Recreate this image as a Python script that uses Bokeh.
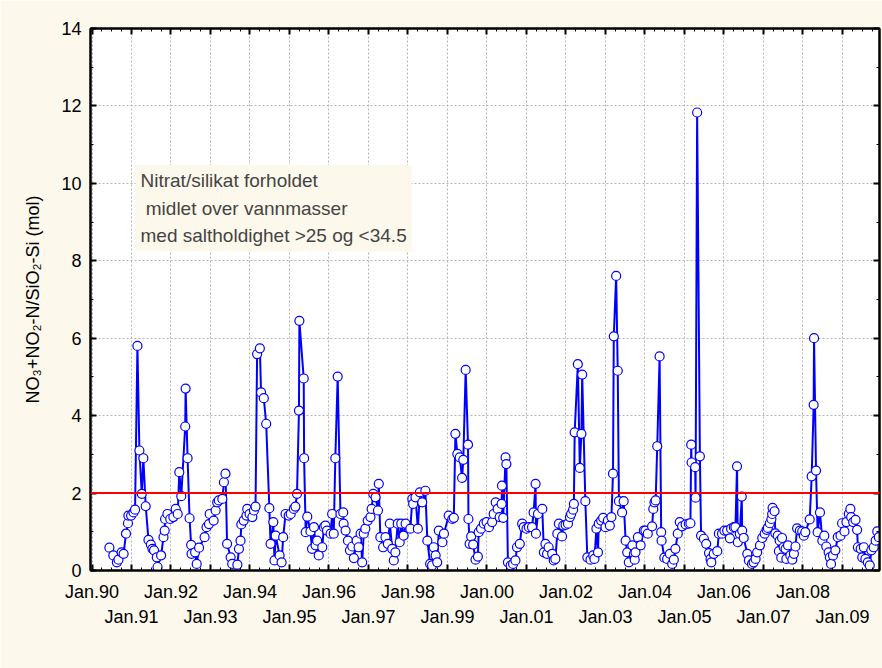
from bokeh.plotting import figure
from bokeh.models import Range1d, FixedTicker, LinearAxis, Span, Label, ColumnDataSource
from bokeh.embed import file_html
from bokeh.resources import INLINE

# decimal-year sampling dates and ratio values
dates = [
    1990.44, 1990.54, 1990.63, 1990.67, 1990.75, 1990.80, 1990.86, 1990.91, 1990.92, 1990.99,
    1991.05, 1991.09, 1991.15, 1991.20, 1991.26, 1991.30, 1991.36, 1991.43, 1991.49, 1991.53,
    1991.57, 1991.64, 1991.66, 1991.75, 1991.81, 1991.84, 1991.85, 1991.91, 1991.98,
    1992.06, 1992.12, 1992.17, 1992.21, 1992.26, 1992.36, 1992.37, 1992.42, 1992.47, 1992.51,
    1992.52, 1992.61, 1992.65, 1992.71, 1992.85, 1992.90, 1992.96, 1992.98,
    1993.08, 1993.13, 1993.17, 1993.21, 1993.30, 1993.34, 1993.38, 1993.42, 1993.51, 1993.55,
    1993.68, 1993.72, 1993.76, 1993.78, 1993.84, 1993.91, 1993.93, 1993.99,
    1994.06, 1994.10, 1994.14, 1994.18, 1994.25, 1994.28, 1994.35, 1994.41, 1994.49, 1994.52,
    1994.59, 1994.62, 1994.65, 1994.75, 1994.80, 1994.84, 1994.90, 1994.98,
    1995.03, 1995.11, 1995.15, 1995.19, 1995.24, 1995.25, 1995.36, 1995.37, 1995.41, 1995.45,
    1995.53, 1995.57, 1995.62, 1995.66, 1995.70, 1995.74, 1995.83, 1995.87, 1995.91, 1995.95,
    1996.04, 1996.08, 1996.12, 1996.16, 1996.22, 1996.29, 1996.36, 1996.37, 1996.42, 1996.48,
    1996.53, 1996.59, 1996.63, 1996.70, 1996.75, 1996.80, 1996.84, 1996.88, 1996.92, 1996.98,
    1997.05, 1997.08, 1997.12, 1997.18, 1997.24, 1997.26, 1997.30, 1997.37, 1997.43, 1997.49,
    1997.54, 1997.60, 1997.64, 1997.68, 1997.74, 1997.79, 1997.83, 1997.89, 1997.94,
    1998.06, 1998.11, 1998.13, 1998.19, 1998.25, 1998.30, 1998.36, 1998.44, 1998.49, 1998.56,
    1998.61, 1998.65, 1998.70, 1998.74, 1998.78, 1998.87, 1998.91,
    1999.03, 1999.12, 1999.16, 1999.20, 1999.25, 1999.31, 1999.37, 1999.40, 1999.46, 1999.52,
    1999.53, 1999.56, 1999.60, 1999.65, 1999.71, 1999.77, 1999.79, 1999.85, 1999.92, 1999.99,
    2000.05, 2000.13, 2000.17, 2000.22, 2000.27, 2000.32, 2000.37, 2000.38, 2000.41, 2000.47,
    2000.49, 2000.53, 2000.60, 2000.66, 2000.72, 2000.76, 2000.83, 2000.89, 2000.93,
    2001.00, 2001.06, 2001.14, 2001.18, 2001.23, 2001.24, 2001.29, 2001.40, 2001.44, 2001.48,
    2001.52, 2001.56, 2001.65, 2001.69, 2001.73, 2001.78, 2001.82, 2001.90, 2001.93, 2001.99,
    2002.05, 2002.10, 2002.13, 2002.18, 2002.20, 2002.22, 2002.30, 2002.35, 2002.39, 2002.41,
    2002.49, 2002.54, 2002.62, 2002.69, 2002.72, 2002.77, 2002.81, 2002.83, 2002.89, 2002.94,
    2003.00, 2003.06, 2003.11, 2003.15, 2003.19, 2003.21, 2003.27, 2003.31, 2003.34, 2003.42,
    2003.46, 2003.51, 2003.55, 2003.59, 2003.68, 2003.72, 2003.74, 2003.76, 2003.82, 2003.89,
    2003.97, 2004.01, 2004.07, 2004.18, 2004.21, 2004.24, 2004.27, 2004.31, 2004.37, 2004.41,
    2004.42, 2004.49, 2004.56, 2004.63, 2004.69, 2004.73, 2004.77, 2004.83, 2004.88, 2004.94,
    2005.03, 2005.11, 2005.15, 2005.17, 2005.18, 2005.27, 2005.28, 2005.32, 2005.39, 2005.42,
    2005.49, 2005.55, 2005.62, 2005.66, 2005.68, 2005.74, 2005.83, 2005.87, 2005.95,
    2006.01, 2006.08, 2006.15, 2006.18, 2006.25, 2006.29, 2006.33, 2006.35, 2006.40, 2006.45,
    2006.46, 2006.50, 2006.59, 2006.63, 2006.71, 2006.75, 2006.80, 2006.84, 2006.91, 2006.97,
    2007.03, 2007.08, 2007.11, 2007.16, 2007.20, 2007.22, 2007.23, 2007.28, 2007.30, 2007.36,
    2007.39, 2007.41, 2007.45, 2007.47, 2007.51, 2007.56, 2007.58, 2007.62, 2007.68, 2007.73,
    2007.77, 2007.81, 2007.85, 2007.92, 2007.98,
    2008.02, 2008.06, 2008.17, 2008.22, 2008.27, 2008.28, 2008.33, 2008.37, 2008.43, 2008.49,
    2008.54, 2008.59, 2008.65, 2008.68, 2008.71, 2008.76, 2008.82, 2008.88, 2008.95, 2008.99,
    2009.05, 2009.10, 2009.16, 2009.20, 2009.22, 2009.27, 2009.33, 2009.37, 2009.39, 2009.46,
    2009.50, 2009.54, 2009.58, 2009.64, 2009.69, 2009.73, 2009.79, 2009.84, 2009.88, 2009.92,
]
values = [
    0.59, 0.39, 0.21, 0.28, 0.47, 0.43, 0.95, 1.22, 1.42, 1.42,
    1.50, 1.57, 5.80, 3.10, 1.98, 2.90, 1.66, 0.79, 0.67, 0.56,
    0.52, 0.34, 0.09, 0.39, 0.86, 1.03, 1.33, 1.46, 1.33,
    1.38, 1.59, 1.46, 2.54, 1.92, 3.72, 4.70, 2.90, 1.35, 0.66,
    0.43, 0.47, 0.17, 0.59, 0.86, 1.12, 1.20, 1.46,
    1.29, 1.55, 1.76, 1.81, 1.85, 2.28, 2.50, 0.69, 0.34, 0.17,
    0.15, 0.56, 0.77, 1.19, 1.29, 1.42, 1.59, 1.46,
    1.38, 1.55, 1.65, 5.59, 5.74, 4.60, 4.45, 3.79, 1.61, 0.69,
    1.25, 0.26, 0.90, 0.39, 0.21, 0.86, 1.46, 1.42,
    1.46, 1.59, 1.65, 1.98, 4.13, 6.45, 4.96, 2.90, 0.99, 1.39,
    1.01, 0.56, 1.12, 0.65, 0.77, 0.39, 0.60, 1.12, 1.16, 1.03,
    0.95, 1.46, 0.95, 2.90, 5.01, 1.46, 1.50, 1.21, 1.03, 0.77,
    0.52, 0.62, 0.32, 0.77, 0.60, 0.95, 0.21, 0.95, 1.08, 1.29,
    1.38, 1.59, 1.98, 1.89, 1.55, 2.24, 0.86, 0.60, 0.86, 0.69,
    1.21, 0.56, 0.26, 0.47, 1.21, 0.73, 1.21, 0.90, 1.21,
    1.08, 1.85, 1.72, 1.89, 1.08, 2.02, 1.76, 2.06, 0.77, 0.17,
    0.13, 0.60, 0.39, 0.21, 1.03, 0.73, 0.95,
    1.42, 1.33, 1.36, 3.53, 3.01, 2.92, 2.39, 2.86, 5.18, 3.25,
    1.33, 0.69, 0.88, 0.67, 0.28, 0.36, 0.99, 1.08, 1.21, 1.25,
    1.12, 1.25, 1.46, 1.76, 1.59, 1.38, 1.72, 2.19, 1.36, 2.92,
    2.75, 0.21, 0.13, 0.17, 0.26, 0.60, 0.69, 1.21, 1.12,
    1.08, 1.12, 1.12, 1.50, 2.24, 0.95, 1.46, 1.59, 0.47, 0.69,
    0.43, 0.60, 0.43, 0.26, 0.30, 0.95, 1.21, 0.88, 1.16, 1.18,
    1.21, 1.38, 1.46, 1.57, 1.72, 3.57, 5.33, 2.65, 3.53, 5.06,
    1.79, 0.34, 0.28, 0.39, 0.30, 1.08, 0.47, 1.21, 1.29, 1.36,
    1.12, 1.29, 1.16, 1.38, 2.50, 6.05, 7.61, 5.16, 1.79, 1.50,
    1.79, 0.77, 0.47, 0.21, 0.65, 0.43, 0.28, 0.47, 0.86, 0.65,
    1.03, 1.03, 0.95, 1.14, 1.59, 1.76, 1.81, 3.21, 5.53, 0.99,
    0.77, 0.33, 0.30, 0.43, 0.17, 0.28, 0.56, 0.95, 1.25, 1.14,
    1.19, 1.21, 1.22, 3.25, 2.79, 2.67, 1.88, 11.83, 2.95, 0.90,
    0.82, 0.69, 0.45, 0.30, 0.21, 0.43, 0.50, 0.95, 0.95,
    1.03, 1.03, 0.83, 1.08, 1.12, 1.12, 2.69, 0.73, 0.95, 1.91,
    1.03, 0.84, 0.43, 0.26, 0.17, 0.21, 0.30, 0.47, 0.65, 0.84,
    0.95, 1.05, 1.10, 1.22, 1.33, 1.46, 1.62, 1.53, 0.96, 0.90,
    0.50, 0.77, 0.33, 0.84, 0.60, 0.56, 0.30, 0.65, 0.39, 0.28,
    0.43, 0.62, 1.09, 1.03, 1.01,
    0.90, 0.99, 1.32, 2.43, 4.28, 6.00, 2.58, 0.99, 1.50, 0.77,
    0.90, 0.62, 0.47, 0.34, 0.17, 0.39, 0.52, 0.86, 0.90, 1.22,
    1.01, 1.25, 1.46, 1.59, 1.38, 1.25, 1.31, 1.05, 0.60, 0.56,
    0.34, 0.60, 0.30, 0.21, 0.13, 0.52, 0.60, 0.77, 1.01, 0.86,
]

threshold = 2.0
years = list(range(1990, 2010))
year_labels = ["Jan.%02d" % (y % 100) for y in years]
quarters = [y + q / 4 for y in range(1989, 2010) for q in range(1, 4)]
y_major = [0, 2, 4, 6, 8, 10, 12, 14]
y_minor = [1, 3, 5, 7, 9, 11, 13]

note_text = "Nitrat/silikat forholdet\n\u00a0midlet over vannmasser\nmed saltholdighet >25 og <34.5"
y_title = "NO\u2083+NO\u2082-N/SiO\u2082-Si (mol)"

FONT = "Liberation Sans"
BG = "#FDF8EC"

p = figure(width=882, height=668, output_backend="svg", toolbar_location=None,
           x_range=Range1d(1989.962, 2009.937), y_range=Range1d(0, 14),
           min_border_left=90, min_border_top=28, min_border_right=3, min_border_bottom=98)
p.background_fill_color = "white"
p.border_fill_color = BG
p.outline_line_color = "black"
p.outline_line_width = 2

xt = FixedTicker(ticks=years, minor_ticks=quarters)
yt = FixedTicker(ticks=y_major, minor_ticks=y_minor)

def style_axis(ax):
    ax.axis_line_color = "black"
    ax.axis_line_width = 2
    ax.major_tick_in = 6
    ax.major_tick_out = 0
    ax.minor_tick_in = 3
    ax.minor_tick_out = 0
    ax.major_tick_line_color = "black"
    ax.major_tick_line_width = 2
    ax.minor_tick_line_color = "black"
    ax.minor_tick_line_width = 1
    ax.major_label_text_font = FONT
    ax.major_label_text_font_size = "18px"
    ax.major_label_text_color = "black"

# bottom axis, first row: even years
xa = p.xaxis[0]
xa.ticker = xt
style_axis(xa)
xa.major_label_overrides = {y: (lab if y % 2 == 0 else "") for y, lab in zip(years, year_labels)}
xa.major_label_standoff = 11

# bottom axis, second row: odd years
xa2 = LinearAxis(ticker=FixedTicker(ticks=years))
xa2.major_label_overrides = {y: (lab if y % 2 == 1 else "") for y, lab in zip(years, year_labels)}
xa2.axis_line_color = None
xa2.major_tick_line_color = None
xa2.minor_tick_line_color = None
xa2.major_tick_in = 0
xa2.major_tick_out = 0
xa2.minor_tick_in = 0
xa2.minor_tick_out = 0
xa2.major_label_text_font = FONT
xa2.major_label_text_font_size = "18px"
xa2.major_label_text_color = "black"
xa2.major_label_standoff = 2
p.add_layout(xa2, "below")

# left axis
ya = p.yaxis[0]
ya.ticker = yt
style_axis(ya)
ya.major_label_standoff = 9
ya.axis_label = y_title
ya.axis_label_text_font = FONT
ya.axis_label_text_font_size = "18px"
ya.axis_label_text_font_style = "normal"
ya.axis_label_text_color = "black"
ya.axis_label_standoff = 15

# top and right axes: ticks only
xt_top = LinearAxis(ticker=FixedTicker(ticks=years, minor_ticks=quarters))
style_axis(xt_top)
xt_top.major_label_overrides = {y: "" for y in years}
xt_top.major_label_standoff = 0
p.add_layout(xt_top, "above")

yr = LinearAxis(ticker=FixedTicker(ticks=y_major, minor_ticks=y_minor))
style_axis(yr)
yr.major_label_overrides = {v: "" for v in y_major}
yr.major_label_standoff = 0
p.add_layout(yr, "right")

for g in (p.xgrid[0], p.ygrid[0]):
    g.grid_line_color = "#B4B4B4"
    g.grid_line_dash = "2 2"
    g.grid_line_width = 1
p.xgrid[0].ticker = xt
p.ygrid[0].ticker = yt

src = ColumnDataSource(dict(x=dates, y=values))
p.line("x", "y", source=src, line_color="#0000FF", line_width=2)
p.scatter("x", "y", source=src, size=9, marker="circle", fill_color="white",
          line_color="#0000FF", line_width=1.2)

p.add_layout(Span(location=threshold, dimension="width", line_color="#FF0000", line_width=2))

p.add_layout(Label(x=1991.101, y=10.475, text=note_text, text_font=FONT,
                   text_font_size="19px", text_align="left", text_baseline="top",
                   text_line_height=1.32, background_fill_color=BG, padding=5))

open("out.html", "w").write(file_html(p, INLINE))
